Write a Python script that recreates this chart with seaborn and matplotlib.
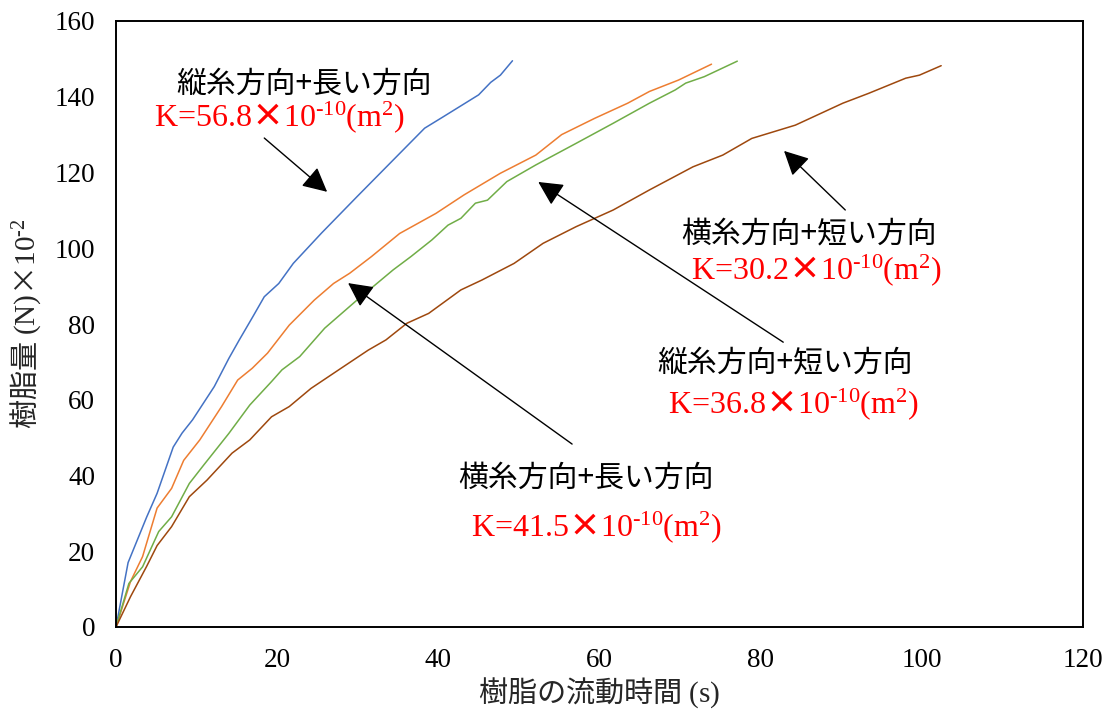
import numpy as np
import pandas as pd
import matplotlib
matplotlib.use("Agg")
import matplotlib.pyplot as plt
import seaborn as sns

# ---- data ----
blue_x = [0, 1.5, 3.8, 5.1, 7.1, 8.2, 9.5, 12.2, 14.0, 15.3, 17.0, 18.4, 20.2, 22.0, 25.5, 29.9,
          34.4, 38.3, 40.6, 45.0, 46.5, 47.7, 49.2]
blue_y = [0, 17.0, 29.0, 35.3, 47.5, 51.2, 54.7, 63.5, 70.9, 75.8, 82.0, 87.2, 90.7, 96.0, 104.0,
          113.6, 123.3, 131.7, 134.7, 140.5, 143.8, 145.7, 149.5]

orange_x = [0, 1.8, 3.3, 5.1, 6.9, 8.4, 10.4, 13.1, 15.1, 16.9, 18.8, 21.5, 24.6, 27.0, 29.0,
            31.7, 35.2, 39.7, 43.2, 47.7, 52.1, 55.3, 59.4, 63.5, 66.2, 69.8, 73.9]
orange_y = [0, 12.0, 18.6, 31.4, 36.6, 44.0, 49.4, 58.2, 65.2, 68.3, 72.3, 79.7, 86.3, 90.7, 93.4,
            97.8, 103.9, 109.2, 114.1, 119.8, 124.6, 130.0, 134.3, 138.3, 141.4, 144.4, 148.6]

green_x = [0, 1.6, 3.3, 5.3, 6.9, 9.1, 10.9, 14.0, 16.6, 19.3, 20.6, 22.8, 25.9, 29.9, 34.4,
           36.6, 39.2, 41.2, 42.8, 44.6, 46.1, 48.5, 52.1, 57.1, 61.7, 66.2, 69.4, 70.7, 73.0, 77.1]
green_y = [0, 11.5, 15.9, 25.2, 29.1, 37.9, 42.8, 51.1, 58.6, 64.8, 67.9, 71.4, 78.9, 86.3, 94.3,
           97.8, 102.2, 106.1, 107.9, 111.9, 112.7, 117.6, 122.0, 127.7, 133.0, 138.3, 141.8,
           143.6, 145.3, 149.4]

brown_x = [0, 1.8, 3.8, 5.1, 6.9, 9.1, 11.3, 14.4, 16.6, 19.3, 21.5, 24.2, 28.2, 31.3, 33.5,
           36.1, 38.8, 42.8, 45.4, 49.4, 53.0, 57.1, 61.7, 66.2, 71.6, 75.3, 78.9, 84.3, 90.2,
           93.4, 98.0, 99.7, 102.4]
brown_y = [0, 8.0, 16.0, 21.5, 26.5, 34.4, 38.8, 45.9, 49.4, 55.5, 58.2, 63.0, 68.7, 73.1, 75.8,
           80.2, 82.8, 89.0, 91.6, 96.0, 101.3, 105.7, 110.1, 115.4, 121.5, 124.6, 129.0, 132.5,
           138.3, 140.9, 144.9, 145.7, 148.2]

series_names = ["縦糸方向+長い方向", "横糸方向+長い方向", "縦糸方向+短い方向", "横糸方向+短い方向"]
series_colors = ["#4472C4", "#ED7D31", "#70AD47", "#9E480E"]

label_texts = ["縦糸方向+長い方向", "横糸方向+短い方向", "縦糸方向+短い方向", "横糸方向+長い方向"]
k_values = ["56.8", "30.2", "36.8", "41.5"]

x_ticks = [0, 20, 40, 60, 80, 100, 120]
y_ticks = [0, 20, 40, 60, 80, 100, 120, 140, 160]

xlabel_text = r"樹脂の流動時間 $\text{(s)}$"
ylabel_text = r"樹脂量 $\text{(N)}$×$\text{10}^{\text{-2}}$"

# ---- build long-form table ----
frames = []
for name, xs, ys in zip(series_names, [blue_x, orange_x, green_x, brown_x],
                        [blue_y, orange_y, green_y, brown_y]):
    frames.append(pd.DataFrame({"t": xs, "w": ys, "series": name}))
df = pd.concat(frames, ignore_index=True)

# ---- style ----
sns.set_style("white")
plt.rcParams["font.family"] = ["Liberation Serif", "Noto Sans CJK JP", "DejaVu Sans"]
plt.rcParams["mathtext.fontset"] = "custom"
plt.rcParams["mathtext.rm"] = "Liberation Serif"
plt.rcParams["mathtext.it"] = "Liberation Serif:italic"
plt.rcParams["mathtext.bf"] = "Liberation Serif:bold"

jp_font = "Noto Sans CJK JP"

fig = plt.figure(figsize=(11.12, 7.22), dpi=100)
ax = fig.add_axes([116 / 1112, 95 / 722, 967 / 1112, 606 / 722])

sns.lineplot(data=df, x="t", y="w", hue="series", hue_order=series_names,
             palette=series_colors, sort=False, estimator=None, linewidth=1.1,
             legend=False, ax=ax)

ax.set_xlim(0, 120)
ax.set_ylim(0, 160)
ax.set_xticks(x_ticks)
ax.set_yticks(y_ticks)
ax.tick_params(axis="both", direction="in", length=6, width=1.0, color="black",
               labelsize=19.5, pad=15, labelcolor="black")
for side in ["left", "bottom", "top", "right"]:
    ax.spines[side].set_visible(True)
    ax.spines[side].set_color("black")
    ax.spines[side].set_linewidth(1.4)

ax.set_xlabel(xlabel_text, fontsize=21, labelpad=2, family=jp_font)
ax.set_ylabel(ylabel_text, fontsize=21, labelpad=8, family=jp_font)

# ---- annotations ----
label_pos = [(23.3, 143.4), (86.0, 103.8), (83.0, 69.7), (58.3, 39.3)]
k_pos = [(20.3, 134.7), (86.9, 94.3), (84.1, 58.9), (59.6, 26.4)]
for txt, kv, (lx, ly), (kx, ky) in zip(label_texts, k_values, label_pos, k_pos):
    ax.text(lx, ly, txt, ha="center", va="center", fontsize=21.5, family=jp_font,
            color="black")
    ktxt = (r"$\text{K=" + kv + r"}$×$\text{10}^{\text{-10}}\text{(m}^{\text{2}}\text{)}$")
    ax.text(kx, ky, ktxt, ha="center", va="center", fontsize=23, color="#FF0000",
            family=jp_font, fontweight="bold")

arrows = [((18.4, 129.1), (26.2, 114.9)),
          ((90.5, 110.1), (82.9, 125.7)),
          ((82.8, 75.2), (52.4, 117.5)),
          ((56.6, 48.3), (28.8, 90.8))]
for tail, head in arrows:
    ax.annotate("", xy=head, xytext=tail,
                arrowprops=dict(arrowstyle="-|>,head_length=0.75,head_width=0.38",
                                color="black", lw=1.0, mutation_scale=20,
                                shrinkA=0, shrinkB=0))

fig.savefig("out.png", dpi=100, facecolor="white")
